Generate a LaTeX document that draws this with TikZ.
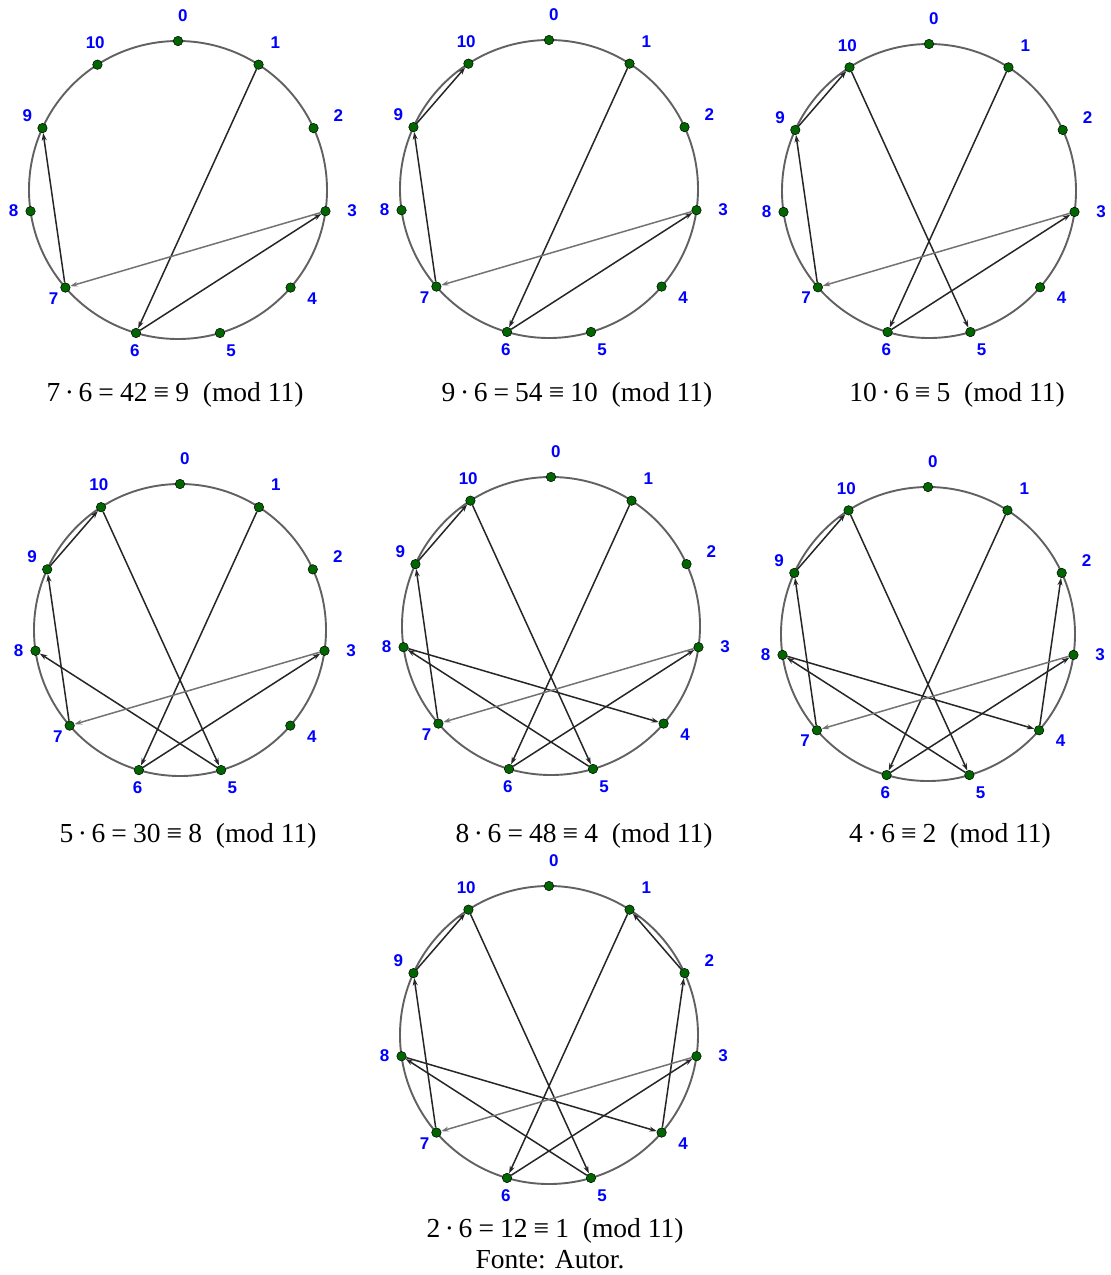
\documentclass[tikz,border=0pt]{standalone}
\usepackage{fontspec}
\setmainfont{Liberation Serif}
\newfontfamily\labelfont{Liberation Sans}
\usetikzlibrary{arrows.meta,calc}

\begin{document}
\begin{tikzpicture}[
    x=1pt, y=-1pt,
    >={Stealth[length=7.5pt,width=5pt]},
    rim/.style={
        draw=black!62,
        line width=1.9pt
    },
    dot/.style={
        circle,
        draw=black,
        line width=0.5pt,
        fill=green!40!black,
        minimum size=9.5pt,
        inner sep=0pt
    },
    num/.style={
        anchor=west,
        inner sep=0pt,
        text=blue,
        font=\labelfont\bfseries\fontsize{17}{17}\selectfont
    },
    edge/.style={
        ->,
        draw=black!85,
        line width=1.5pt
    },
    faint/.style={
        draw=black!55
    },
    caption/.style={
        anchor=base,
        inner sep=0pt,
        font=\fontsize{27.5}{30}\selectfont
    }
]

    \useasboundingbox (0,0) rectangle (1111,1275);

    % the seven clock faces, points 0..10
    \foreach \p/\cx/\cy/\r in {a/178/190/149, b/549/189/149, c/929/191/147,
                               d/180/630/146, e/551/626/149, f/928/634/147,
                               g/549/1035/149} {
        \draw[rim] (\cx,\cy) circle (\r pt);
        \foreach \k in {0,...,10} {
            \node[dot] (\p\k) at ($(\cx,\cy)+({32.727*\k-90}:\r)$) {};
            \node[num, xshift=0pt, yshift=3.6pt] (l\p\k)
                at ($(\cx,\cy)+({32.727*\k-90}:{\r+22})$) {\k};
        }
    }

    % 7 * 6 = 42 = 9
    \foreach \s/\t in {1/6, 6/3, 7/9} \draw[edge] (a\s) -- (a\t);
    \draw[edge, faint] (a3) -- (a7);
    \node[caption] (capa) at (175,401) {7\,·\,6\:=\:42\:≡\:9\enspace(mod 11)};

    % 9 * 6 = 54 = 10
    \foreach \s/\t in {1/6, 6/3, 7/9, 9/10} \draw[edge] (b\s) -- (b\t);
    \draw[edge, faint] (b3) -- (b7);
    \node[caption] (capb) at (577,401) {9\,·\,6\:=\:54\:≡\:10\enspace(mod 11)};

    % 10 * 6 = 5
    \foreach \s/\t in {1/6, 6/3, 7/9, 9/10, 10/5} \draw[edge] (c\s) -- (c\t);
    \draw[edge, faint] (c3) -- (c7);
    \node[caption] (capc) at (957,401) {10\,·\,6\:≡\:5\enspace(mod 11)};

    % 5 * 6 = 30 = 8
    \foreach \s/\t in {1/6, 6/3, 7/9, 9/10, 10/5, 5/8} \draw[edge] (d\s) -- (d\t);
    \draw[edge, faint] (d3) -- (d7);
    \node[caption] (capd) at (188,842) {5\,·\,6\:=\:30\:≡\:8\enspace(mod 11)};

    % 8 * 6 = 48 = 4
    \foreach \s/\t in {1/6, 6/3, 7/9, 9/10, 10/5, 5/8, 8/4} \draw[edge] (e\s) -- (e\t);
    \draw[edge, faint] (e3) -- (e7);
    \node[caption] (cape) at (584,842) {8\,·\,6\:=\:48\:≡\:4\enspace(mod 11)};

    % 4 * 6 = 2
    \foreach \s/\t in {1/6, 6/3, 7/9, 9/10, 10/5, 5/8, 8/4, 4/2} \draw[edge] (f\s) -- (f\t);
    \draw[edge, faint] (f3) -- (f7);
    \node[caption] (capf) at (950,842) {4\,·\,6\:≡\:2\enspace(mod 11)};

    % 2 * 6 = 12 = 1
    \foreach \s/\t in {1/6, 6/3, 7/9, 9/10, 10/5, 5/8, 8/4, 4/2, 2/1} \draw[edge] (g\s) -- (g\t);
    \draw[edge, faint] (g3) -- (g7);
    \node[caption] (capg) at (555,1237) {2\,·\,6\:=\:12\:≡\:1\enspace(mod 11)};
    \node[caption] (source) at (550,1268) {Fonte: Autor.};

\end{tikzpicture}
\end{document}
